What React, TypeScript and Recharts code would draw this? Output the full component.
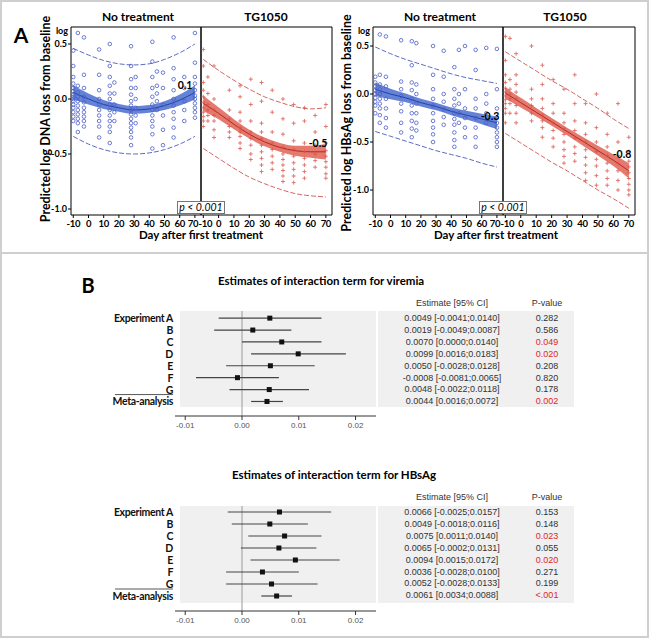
import React from 'react';
import {
  ComposedChart,
  Scatter,
  Line,
  Area,
  XAxis,
  YAxis,
  ReferenceArea,
  ReferenceLine,
  ErrorBar,
} from 'recharts';

const LATO = 'Lato, "Open Sans", sans-serif';
const ARIAL = '"Liberation Sans", Arial, sans-serif';

// ---------- Panel A data ----------
const dayTicks = [-10, 0, 10, 20, 30, 40, 50, 60, 70];
const curveDays = [-10, 0, 10, 20, 30, 40, 50, 60, 70];
const xDomain: [number, number] = [-11.5, 74];

// DNA, no treatment
const dnaNtMean = [0.06, 0.0, -0.05, -0.08, -0.1, -0.09, -0.06, -0.01, 0.06];
const dnaNtLo = [-0.005, -0.05, -0.09, -0.115, -0.135, -0.125, -0.1, -0.06, -0.005];
const dnaNtHi = [0.125, 0.05, -0.01, -0.045, -0.065, -0.055, -0.02, 0.04, 0.125];
const dnaNtUpper = [0.46, 0.4, 0.35, 0.32, 0.31, 0.32, 0.36, 0.42, 0.5];
const dnaNtLower = [-0.34, -0.41, -0.46, -0.49, -0.5, -0.49, -0.46, -0.41, -0.34];
// DNA, TG1050
const dnaTgMean = [-0.04, -0.13, -0.23, -0.32, -0.39, -0.44, -0.47, -0.48, -0.48];
const dnaTgLo = [-0.11, -0.185, -0.275, -0.36, -0.43, -0.48, -0.515, -0.535, -0.55];
const dnaTgHi = [0.03, -0.075, -0.185, -0.28, -0.35, -0.4, -0.425, -0.425, -0.41];
const dnaTgUpper = [0.36, 0.26, 0.17, 0.09, 0.02, -0.03, -0.07, -0.09, -0.08];
const dnaTgLower = [-0.45, -0.54, -0.63, -0.71, -0.77, -0.82, -0.86, -0.88, -0.89];
// HBsAg, no treatment
const hbsNtMean = [0.05, 0.0, -0.04, -0.09, -0.13, -0.18, -0.22, -0.26, -0.3];
const hbsNtLo = [-0.02, -0.055, -0.085, -0.13, -0.17, -0.22, -0.265, -0.315, -0.365];
const hbsNtHi = [0.12, 0.055, 0.005, -0.05, -0.09, -0.14, -0.175, -0.205, -0.235];
const hbsNtUpper = [0.49, 0.42, 0.36, 0.31, 0.26, 0.21, 0.17, 0.14, 0.11];
const hbsNtLower = [-0.39, -0.44, -0.49, -0.54, -0.59, -0.63, -0.67, -0.72, -0.76];
// HBsAg, TG1050
const hbsTgMean = [0.01, -0.09, -0.19, -0.29, -0.39, -0.49, -0.59, -0.69, -0.8];
const hbsTgLo = [-0.05, -0.14, -0.235, -0.33, -0.43, -0.535, -0.64, -0.75, -0.88];
const hbsTgHi = [0.07, -0.04, -0.145, -0.25, -0.35, -0.445, -0.54, -0.63, -0.72];
const hbsTgUpper = [0.44, 0.34, 0.24, 0.14, 0.05, -0.05, -0.15, -0.26, -0.36];
const hbsTgLower = [-0.41, -0.51, -0.61, -0.71, -0.8, -0.9, -1.0, -1.09, -1.19];

type Col = [number, number[]];
const dnaNtPoints: Col[] = [
  [-10, [0.44, 0.3, 0.2, 0.14, 0.1, 0.07, 0.04, 0.02, 0.0, -0.02, -0.05, -0.08, -0.12, -0.16, -0.2]],
  [-7, [0.6, 0.12, 0.06, 0.02, -0.02, -0.06, -0.1, -0.14, -0.18, -0.22, -0.3]],
  [-3, [0.56, 0.22, 0.1, 0.02, -0.03, -0.08, -0.12, -0.16, -0.2, -0.25]],
  [7, [0.45, 0.22, 0.08, 0.0, -0.05, -0.1, -0.15, -0.2, -0.25, -0.35]],
  [14, [0.5, 0.3, 0.2, 0.12, 0.05, 0.0, -0.05, -0.1, -0.15, -0.2, -0.25, -0.3, -0.4]],
  [17, [0.15, 0.05, -0.05, -0.12, -0.2]],
  [28, [0.48, 0.3, 0.18, 0.1, 0.04, -0.02, -0.06, -0.1, -0.14, -0.18, -0.22, -0.26, -0.3, -0.35, -0.42]],
  [31, [0.2, 0.1, 0.0, -0.08, -0.15, -0.22]],
  [42, [0.52, 0.34, 0.2, 0.1, 0.02, -0.05, -0.1, -0.15, -0.2, -0.25, -0.32, -0.45]],
  [45, [0.25, 0.12, 0.05, -0.02, -0.1]],
  [49, [0.24, 0.1, -0.05, -0.15, -0.28, -0.42]],
  [56, [0.56, 0.28, 0.18, 0.08, 0.0, -0.06, -0.12, -0.18, -0.26, -0.35]],
  [63, [0.2, 0.1, -0.02, -0.1, -0.2]],
  [70, [0.6, 0.33, 0.2, 0.14, 0.08, 0.03, 0.0, -0.04, -0.08, -0.12, -0.17]],
];
const dnaTgPoints: Col[] = [
  [-10, [0.45, 0.3, 0.15, 0.08, 0.02, -0.03, -0.08, -0.12, -0.16, -0.2, -0.25]],
  [-7, [0.2, 0.05, -0.05, -0.1, -0.15, -0.2]],
  [-3, [0.3, 0.0, -0.1, -0.15, -0.2, -0.28, -0.35]],
  [7, [0.08, -0.1, -0.18, -0.25, -0.3, -0.35]],
  [14, [0.12, 0.02, -0.12, -0.2, -0.26, -0.3, -0.34, -0.4, -0.45]],
  [21, [0.18, -0.05, -0.2, -0.3, -0.36, -0.42, -0.5, -0.55]],
  [28, [0.15, -0.02, -0.22, -0.3, -0.36, -0.42, -0.48, -0.54, -0.6, -0.66]],
  [35, [0.08, -0.12, -0.3, -0.4, -0.46, -0.52, -0.58, -0.64]],
  [42, [0.0, -0.18, -0.32, -0.44, -0.5, -0.55, -0.6, -0.65, -0.7, -0.75]],
  [49, [-0.05, -0.22, -0.38, -0.46, -0.52, -0.58, -0.64, -0.7, -0.76]],
  [56, [-0.08, -0.2, -0.4, -0.48, -0.54, -0.6, -0.66, -0.72]],
  [63, [-0.15, -0.3, -0.42, -0.5, -0.56, -0.62]],
  [70, [-0.05, -0.25, -0.4, -0.47, -0.52, -0.57, -0.62, -0.68, -0.72]],
];
const hbsNtPoints: Col[] = [
  [-10, [0.18, 0.12, 0.08, 0.04, 0.0, -0.04, -0.08, -0.12, -0.2]],
  [-7, [0.62, 0.2, 0.1, 0.05, 0.0, -0.05, -0.1, -0.15, -0.22, -0.3]],
  [-3, [0.6, 0.18, 0.08, -0.05, -0.15, -0.25, -0.35]],
  [7, [0.56, 0.13, 0.05, -0.02, -0.1, -0.18, -0.3, -0.4]],
  [14, [0.55, 0.3, 0.12, 0.04, -0.05, -0.12, -0.2, -0.28, -0.36, -0.45]],
  [17, [0.53, 0.1, 0.0, -0.1, -0.2, -0.3, -0.38]],
  [28, [0.5, 0.2, 0.05, -0.05, -0.12, -0.2, -0.28, -0.35, -0.42, -0.5]],
  [35, [0.45, 0.18, 0.0, -0.08, -0.16, -0.24, -0.32]],
  [42, [0.28, 0.05, -0.05, -0.12, -0.2, -0.26, -0.32, -0.4, -0.48, -0.55]],
  [45, [0.46, 0.0, -0.1, -0.2, -0.3]],
  [49, [0.5, 0.05, -0.15, -0.25, -0.35, -0.45]],
  [56, [0.46, 0.25, -0.05, -0.15, -0.25, -0.35, -0.45, -0.55]],
  [63, [0.48, 0.0, -0.1, -0.2, -0.3]],
  [70, [0.47, 0.05, -0.15, -0.25, -0.3, -0.35, -0.4, -0.45, -0.5, -0.55]],
];
const hbsTgPoints: Col[] = [
  [-10, [0.6, 0.35, 0.2, 0.12, 0.06, 0.02, -0.02, -0.06, -0.1, -0.15, -0.2, -0.3]],
  [-7, [0.58, 0.15, 0.05, 0.0, -0.05, -0.1, -0.2]],
  [-3, [0.42, 0.2, 0.1, 0.02, -0.05, -0.12, -0.2, -0.3]],
  [7, [0.5, 0.05, -0.05, -0.12, -0.2, -0.28]],
  [14, [0.3, 0.1, -0.05, -0.15, -0.22, -0.28, -0.35, -0.45]],
  [21, [0.15, -0.1, -0.2, -0.3, -0.38, -0.46, -0.55]],
  [28, [0.05, -0.2, -0.3, -0.36, -0.42, -0.5, -0.58, -0.65, -0.72]],
  [35, [0.2, -0.1, -0.28, -0.38, -0.46, -0.55, -0.62, -0.7]],
  [42, [-0.1, -0.3, -0.42, -0.5, -0.58, -0.66, -0.74, -0.82, -0.9]],
  [49, [0.0, -0.35, -0.5, -0.6, -0.68, -0.75, -0.85, -0.95]],
  [56, [-0.2, -0.42, -0.55, -0.64, -0.72, -0.8, -0.88, -0.95]],
  [63, [-0.1, -0.5, -0.64, -0.72, -0.8, -0.9, -1.0]],
  [70, [-0.45, -0.6, -0.7, -0.76, -0.82, -0.88, -0.94, -1.0, -1.05]],
];

// ---------- Panel B data ----------
const expNames = ['Experiment A', 'B', 'C', 'D', 'E', 'F', 'G', 'Meta-analysis'];
const virEst = [0.0049, 0.0019, 0.007, 0.0099, 0.005, -0.0008, 0.0048, 0.0044];
const virLo = [-0.0041, -0.0049, 0.0, 0.0016, -0.0028, -0.0081, -0.0022, 0.0016];
const virHi = [0.014, 0.0087, 0.014, 0.0183, 0.0128, 0.0065, 0.0118, 0.0072];
const virP = ['0.282', '0.586', '0.049', '0.020', '0.208', '0.820', '0.178', '0.002'];
const virSig = [false, false, true, true, false, false, false, true];
const hbsEst = [0.0066, 0.0049, 0.0075, 0.0065, 0.0094, 0.0036, 0.0052, 0.0061];
const hbsLo = [-0.0025, -0.0018, 0.0011, -0.0002, 0.0015, -0.0028, -0.0028, 0.0034];
const hbsHi = [0.0157, 0.0116, 0.014, 0.0131, 0.0172, 0.01, 0.0133, 0.0088];
const hbsP = ['0.153', '0.148', '0.023', '0.055', '0.020', '0.271', '0.199', '<.001'];
const hbsSig = [false, false, true, false, true, false, false, true];
const forestTicks = [-0.01, 0, 0.01, 0.02];

// ---------- helpers ----------
const buildCurve = (m: number[], lo: number[], hi: number[], up: number[], dn: number[]) =>
  curveDays.map((d, i) => ({ day: d, mean: m[i], band: [lo[i], hi[i]], upper: up[i], lower: dn[i] }));
const flatten = (cols: Col[]) =>
  cols.flatMap(([d, vals]) => vals.map((v) => ({ day: d, val: v })));

const circleShape = (p: any) => (
  <circle cx={p.cx} cy={p.cy} r={1.8} fill="none" stroke="#4a5cc6" strokeWidth={0.8} />
);
const crossShape = (p: any) => (
  <path
    d={`M${p.cx - 2},${p.cy}H${p.cx + 2}M${p.cx},${p.cy - 2}V${p.cy + 2}`}
    stroke="#d9544a"
    strokeWidth={0.9}
    opacity={0.85}
  />
);

type FacetProps = {
  plotLeft: number;
  plotTop: number;
  plotW: number;
  plotH: number;
  yDomain: [number, number];
  showY: boolean;
  rows: any[];
  pts: any[];
  red: boolean;
};

function Facet({ plotLeft, plotTop, plotW, plotH, yDomain, showY, rows, pts, red }: FacetProps) {
  const mL = showY ? 0 : 12;
  const yW = showY ? 30 : 0;
  const mT = 4;
  const mR = 6;
  const xH = 22;
  const width = mL + yW + plotW + mR;
  const height = mT + plotH + xH;
  const bandFill = red ? '#e0584a' : '#3f64cc';
  const lineCol = red ? '#b02a20' : '#2441a8';
  const dashCol = red ? '#c8403a' : '#3446b4';
  const DayTick = (p: any) => {
    const v = p.payload.value as number;
    let dx = 0;
    if (showY && v === 70) dx = -2;
    if (!showY && v === -10) dx = 2;
    return (
      <text
        x={p.x + dx}
        y={p.y}
        dy={8}
        textAnchor="middle"
        fontSize={9.5}
        fontWeight={700}
        fontFamily={LATO}
        letterSpacing={-0.3}
        fill="#000"
      >
        {v}
      </text>
    );
  };
  return (
    <div style={{ position: 'absolute', left: plotLeft - mL - yW, top: plotTop - mT }}>
      <ComposedChart
        width={width}
        height={height}
        data={rows}
        margin={{ top: mT, right: mR, bottom: 0, left: mL }}
      >
        <XAxis
          type="number"
          dataKey="day"
          domain={xDomain}
          ticks={dayTicks}
          interval={0}
          allowDataOverflow
          height={xH}
          tickSize={3}
          tickMargin={1}
          axisLine={false}
          tickLine={{ stroke: '#000' }}
          tick={DayTick}
        />
        <YAxis
          type="number"
          domain={yDomain}
          allowDataOverflow
          hide={!showY}
          width={yW}
          ticks={[-1, -0.5, 0, 0.5]}
          interval={0}
          tickFormatter={(v: number) => v.toFixed(1)}
          tickSize={3}
          tickMargin={1}
          axisLine={false}
          tickLine={{ stroke: '#000' }}
          tick={{ fontSize: 9, fontWeight: 700, fill: '#000', fontFamily: LATO }}
        />
        <Scatter
          data={pts}
          dataKey="val"
          shape={red ? crossShape : circleShape}
          isAnimationActive={false}
        />
        <Area
          type="monotone"
          dataKey="band"
          stroke="none"
          fill={bandFill}
          fillOpacity={0.8}
          isAnimationActive={false}
          activeDot={false}
        />
        <Line type="monotone" dataKey="mean" stroke={lineCol} strokeWidth={1} dot={false} isAnimationActive={false} activeDot={false} />
        <Line type="monotone" dataKey="upper" stroke={dashCol} strokeWidth={0.8} strokeDasharray="5 2" dot={false} isAnimationActive={false} activeDot={false} />
        <Line type="monotone" dataKey="lower" stroke={dashCol} strokeWidth={0.8} strokeDasharray="5 2" dot={false} isAnimationActive={false} activeDot={false} />
        <ReferenceArea
          x1={xDomain[0]}
          x2={xDomain[1]}
          y1={yDomain[0]}
          y2={yDomain[1]}
          fill="none"
          stroke="#000"
          strokeWidth={1}
          ifOverflow="visible"
        />
      </ComposedChart>
    </div>
  );
}

type ForestProps = {
  plotTop: number;
  yDomain: [number, number];
  est: number[];
  lo: number[];
  hi: number[];
};

function Forest({ plotTop, yDomain, est, lo, hi }: ForestProps) {
  const plotLeft = 175;
  const plotW = 201;
  const plotH = 105;
  const yW = 70;
  const mT = 2;
  const xH = 20;
  const data = est.map((e, i) => ({ row: i, est: e, err: [e - lo[i], hi[i] - e] }));
  const RowTick = (p: any) => {
    const i = p.payload.value as number;
    const xr = yW - 2;
    return (
      <g>
        <text
          x={xr}
          y={p.y}
          dy={4}
          textAnchor="end"
          fontSize={10.5}
          fontWeight={700}
          fontFamily={LATO}
          letterSpacing={-0.35}
          fill="#111"
        >
          {expNames[i]}
        </text>
        {i === 6 ? <line x1={xr - 58} x2={xr} y1={p.y + 5} y2={p.y + 5} stroke="#444" strokeWidth={0.9} /> : null}
      </g>
    );
  };
  return (
    <div style={{ position: 'absolute', left: plotLeft - yW, top: plotTop - mT }}>
      <ComposedChart
        width={yW + plotW + 4}
        height={mT + plotH + xH}
        margin={{ top: mT, right: 4, bottom: 0, left: 0 }}
      >
        <XAxis
          type="number"
          dataKey="est"
          domain={[-0.0118, 0.0236]}
          allowDataOverflow
          ticks={forestTicks}
          interval={0}
          tickFormatter={(v: number) => v.toFixed(2)}
          height={xH}
          tickSize={4}
          axisLine={{ stroke: '#333' }}
          tickLine={{ stroke: '#333' }}
          tick={{ fontSize: 8, fill: '#555', fontFamily: ARIAL }}
        />
        <YAxis
          type="number"
          dataKey="row"
          domain={yDomain}
          allowDataOverflow
          reversed
          ticks={[0, 1, 2, 3, 4, 5, 6, 7]}
          interval={0}
          width={yW}
          axisLine={false}
          tickLine={false}
          tickSize={0}
          tickMargin={2}
          tick={RowTick}
        />
        <ReferenceLine x={0} stroke="#9a9a9a" strokeWidth={1} ifOverflow="visible" />
        <Scatter
          data={data}
          shape={(p: any) => <rect x={p.cx - 2.5} y={p.cy - 2.5} width={5} height={5} fill="#111" />}
          isAnimationActive={false}
        >
          <ErrorBar dataKey="err" direction="x" width={0} stroke="#444" strokeWidth={1.2} />
        </Scatter>
      </ComposedChart>
    </div>
  );
}

type TxtProps = {
  x: number;
  y: number;
  children: React.ReactNode;
  size?: number;
  weight?: number;
  anchor?: 'start' | 'middle' | 'end';
  family?: string;
  color?: string;
  italic?: boolean;
  rotate?: number;
  spacing?: number;
};
function Txt({ x, y, children, size = 12, weight = 700, anchor = 'middle', family = LATO, color = '#000', italic = false, rotate = 0, spacing = 0 }: TxtProps) {
  const tx = anchor === 'middle' ? '-50%' : anchor === 'end' ? '-100%' : '0';
  return (
    <div
      style={{
        position: 'absolute',
        left: x,
        top: y,
        transform: `translate(${tx},-50%)${rotate ? ` rotate(${rotate}deg)` : ''}`,
        fontSize: size,
        fontWeight: weight,
        fontFamily: family,
        color,
        fontStyle: italic ? 'italic' : 'normal',
        whiteSpace: 'nowrap',
        lineHeight: 1,
        letterSpacing: spacing,
      }}
    >
      {children}
    </div>
  );
}

function Table({ top, est, lo, hi, p, sig, headerY }: { top: number; est: number[]; lo: number[]; hi: number[]; p: string[]; sig: boolean[]; headerY: number }) {
  return (
    <>
      <Txt x={452} y={headerY} size={9} weight={400} family={ARIAL} color="#333">Estimate [95% CI]</Txt>
      <Txt x={547} y={headerY} size={9} weight={400} family={ARIAL} color="#333">P-value</Txt>
      {est.map((e, i) => (
        <React.Fragment key={i}>
          <Txt x={452} y={top + i * 11.9} size={9} weight={400} family={ARIAL} color="#333">
            {`${e.toFixed(4)} [${lo[i].toFixed(4)};${hi[i].toFixed(4)}]`}
          </Txt>
          <Txt x={547} y={top + i * 11.9} size={9} weight={400} family={ARIAL} color={sig[i] ? '#e0262a' : '#333'}>
            {p[i]}
          </Txt>
        </React.Fragment>
      ))}
    </>
  );
}

const PBox = ({ x }: { x: number }) => (
  <div
    style={{
      position: 'absolute',
      left: x,
      top: 201,
      width: 48,
      height: 13,
      border: '1px solid #777',
      background: '#fff',
      boxSizing: 'border-box',
      fontFamily: LATO,
      fontStyle: 'italic',
      fontSize: 10.5,
      lineHeight: '11px',
      textAlign: 'center',
      whiteSpace: 'nowrap',
    }}
  >
    p &lt; 0.001
  </div>
);

export default function App() {
  const dnaNtRows = buildCurve(dnaNtMean, dnaNtLo, dnaNtHi, dnaNtUpper, dnaNtLower);
  const dnaTgRows = buildCurve(dnaTgMean, dnaTgLo, dnaTgHi, dnaTgUpper, dnaTgLower);
  const hbsNtRows = buildCurve(hbsNtMean, hbsNtLo, hbsNtHi, hbsNtUpper, hbsNtLower);
  const hbsTgRows = buildCurve(hbsTgMean, hbsTgLo, hbsTgHi, hbsTgUpper, hbsTgLower);
  const dnaY: [number, number] = [-1.0545, 0.6545];
  const hbsY: [number, number] = [-1.26, 0.698];
  return (
    <div style={{ position: 'absolute', left: 0, top: 0, width: 649, height: 638, background: '#fff', overflow: 'hidden' }}>
      {/* frame */}
      <div style={{ position: 'absolute', left: 0, top: 0, width: 645, height: 634, border: '2px solid #cfcfcf' }} />
      <div style={{ position: 'absolute', left: 0, top: 252, width: 649, height: 2, background: '#cfcfcf' }} />

      {/* Panel A */}
      <Txt x={21} y={34} size={21}>A</Txt>
      <Txt x={138} y={17} size={12}>No treatment</Txt>
      <Txt x={266} y={17} size={12}>TG1050</Txt>
      <Txt x={440} y={17} size={12}>No treatment</Txt>
      <Txt x={565} y={17} size={12}>TG1050</Txt>
      <Txt x={68} y={30} size={9} anchor="end">log</Txt>
      <Txt x={370} y={30} size={9} anchor="end">log</Txt>
      <Txt x={46} y={119} size={12.5} rotate={-90}>Predicted log DNA loss from baseline</Txt>
      <Txt x={347} y={123} size={12.5} rotate={-90}>Predicted log HBsAg loss from baseline</Txt>

      <Facet plotLeft={71} plotTop={27} plotW={130} plotH={188} yDomain={dnaY} showY rows={dnaNtRows} pts={flatten(dnaNtPoints)} red={false} />
      <Facet plotLeft={201} plotTop={27} plotW={131} plotH={188} yDomain={dnaY} showY={false} rows={dnaTgRows} pts={flatten(dnaTgPoints)} red />
      <Facet plotLeft={373} plotTop={27} plotW={130} plotH={188} yDomain={hbsY} showY rows={hbsNtRows} pts={flatten(hbsNtPoints)} red={false} />
      <Facet plotLeft={503} plotTop={27} plotW={132} plotH={188} yDomain={hbsY} showY={false} rows={hbsTgRows} pts={flatten(hbsTgPoints)} red />

      <Txt x={185} y={85} size={10.5}>0.1</Txt>
      <Txt x={318} y={143} size={10.5}>-0.5</Txt>
      <Txt x={490} y={116} size={10.5}>-0.3</Txt>
      <Txt x={622} y={154} size={10.5}>-0.8</Txt>
      <PBox x={177} />
      <PBox x={479} />
      <Txt x={201} y={235} size={11.5}>Day after first treatment</Txt>
      <Txt x={496} y={235} size={11.5}>Day after first treatment</Txt>

      {/* Panel B */}
      <Txt x={88} y={285} size={20}>B</Txt>
      <Txt x={218} y={281} size={11.5} anchor="start">Estimates of interaction term for viremia</Txt>
      <Txt x={232} y={475} size={11.5} anchor="start">Estimates of interaction term for HBsAg</Txt>

      <div style={{ position: 'absolute', left: 180, top: 311, width: 196, height: 96, background: '#f0f0f0' }} />
      <div style={{ position: 'absolute', left: 378, top: 311, width: 196, height: 96, background: '#f0f0f0' }} />
      <div style={{ position: 'absolute', left: 180, top: 506, width: 196, height: 97, background: '#f0f0f0' }} />
      <div style={{ position: 'absolute', left: 378, top: 506, width: 196, height: 97, background: '#f0f0f0' }} />

      <Forest plotTop={311} yDomain={[-0.6, 8.22]} est={virEst} lo={virLo} hi={virHi} />
      <Forest plotTop={506} yDomain={[-0.5, 8.25]} est={hbsEst} lo={hbsLo} hi={hbsHi} />

      <Table top={318} headerY={303} est={virEst} lo={virLo} hi={virHi} p={virP} sig={virSig} />
      <Table top={512} headerY={497} est={hbsEst} lo={hbsLo} hi={hbsHi} p={hbsP} sig={hbsSig} />
    </div>
  );
}
